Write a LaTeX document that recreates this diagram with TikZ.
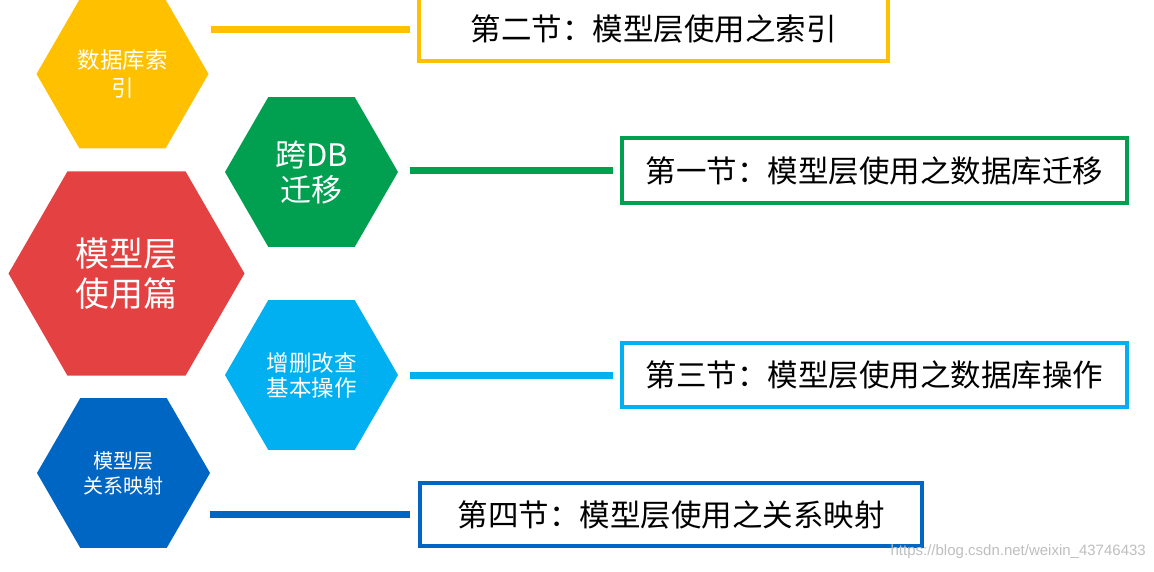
\documentclass[tikz,border=0pt]{standalone}
\usepackage{fontspec}
\setmainfont{Noto Sans CJK SC}
\newfontfamily\wmfont{Liberation Sans}
\usetikzlibrary{shapes.geometric}
\definecolor{cyellow}{RGB}{255,192,0}
\definecolor{cgreen}{RGB}{0,160,80}
\definecolor{cred}{RGB}{228,66,66}
\definecolor{clblue}{RGB}{0,176,240}
\definecolor{cdblue}{RGB}{0,102,196}
\tikzset{
  hexnode/.style={regular polygon, regular polygon sides=6, inner sep=0pt, text=white, align=center},
  secbox/.style={draw, line width=3.5pt, fill=white, inner sep=0pt, text=black,
    font=\fontsize{30.5}{36}\selectfont},
  link/.style={line width=7pt}
}
\begin{document}
\begin{tikzpicture}[x=1pt,y=-1pt]
\useasboundingbox (0,0) rectangle (1154,571);
\fill[white] (0,0) rectangle (1154,571);

% hexagons
\node[hexnode, fill=cyellow, minimum size=172pt, font=\fontsize{22.5}{28}\selectfont] (yh) at (122.5,74) {数据库索\\引};
\node[hexnode, fill=cgreen, minimum size=173pt, font=\fontsize{31}{35}\selectfont] (gh) at (311.5,172) {跨DB\\迁移};
\node[hexnode, fill=cred, minimum size=236pt, font=\fontsize{34}{40}\selectfont] (rh) at (126.5,273.5) {模型层\\使用篇};
\node[hexnode, fill=clblue, minimum size=173pt, font=\fontsize{22.5}{25}\selectfont] (lh) at (311.5,375) {增删改查\\基本操作};
\node[hexnode, fill=cdblue, minimum size=173pt, font=\fontsize{20}{25}\selectfont] (dh) at (123.5,473) {模型层\\关系映射};

% section boxes
\node[secbox, draw=none, outer sep=0pt, minimum width=469pt, minimum height=64pt] (yb) at (653.5,29) {第二节：模型层使用之索引};
\draw[cyellow, line width=3.5pt] ([yshift=12pt]yb.north west) rectangle (yb.south east);
\node[secbox, draw=cgreen, minimum width=505pt, minimum height=65pt] (gb) at (874.5,170.5) {第一节：模型层使用之数据库迁移};
\node[secbox, draw=clblue, minimum width=505pt, minimum height=64pt] (lb) at (874.5,375) {第三节：模型层使用之数据库操作};
\node[secbox, draw=cdblue, minimum width=502pt, minimum height=63pt] (db) at (671,514.5) {第四节：模型层使用之关系映射};

% connectors
\draw[link, cyellow, shorten <=2pt, shorten >=9pt] (yh.east |- yb.west) -- (yb.west);
\draw[link, cgreen, shorten <=12pt, shorten >=7pt] (gh.east |- gb.west) -- (gb.west);
\draw[link, clblue, shorten <=12pt, shorten >=7pt] (lh.east |- lb.west) -- (lb.west);
\draw[link, cdblue, shorten <=0pt, shorten >=8pt] (dh.east |- db.west) -- (db.west);

% watermark
\node[anchor=east, inner sep=0pt, text=black!25, font=\wmfont\fontsize{15}{18}\selectfont] (wm) at (1146,552) {https://blog.csdn.net/weixin\_43746433};
\end{tikzpicture}
\end{document}
